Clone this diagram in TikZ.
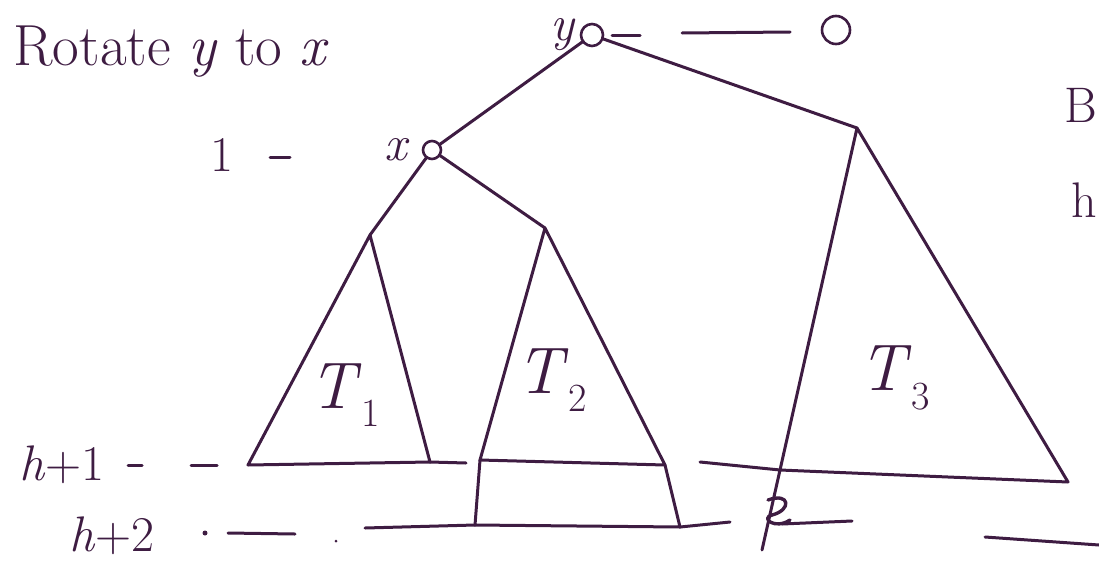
\documentclass[tikz,border=0pt]{standalone}
\usepackage{fontspec}
\usepackage{tikz}
\usetikzlibrary{positioning,calc}
\definecolor{ink}{RGB}{62,28,66}
\newcommand{\subtree}[1]{\textit{T}\raisebox{-0.28em}{\fontsize{40}{40}\selectfont #1}}

\begin{document}
\begin{tikzpicture}[
    x=1pt, y=-1pt,
    line width=3pt, draw=ink, line cap=round, line join=round,
    vertex/.style={circle, draw=ink, line width=2.6pt, fill=white, inner sep=0pt, minimum size=20pt},
    hand/.style={text=ink, font=\fontsize{50}{56}\selectfont, inner sep=0pt},
    tree/.style={text=ink, font=\fontsize{66}{70}\selectfont, inner sep=0pt}
]
    \useasboundingbox (0,0) rectangle (1099,562);

    % Title
    \node[hand, anchor=west, font=\fontsize{58}{62}\selectfont] (title) at (12,52) {Rotate \textit{y} to \textit{x}};

    % Nodes y, x and the extra node
    \node[vertex, minimum size=22pt] (y) at (592,35) {};
    \node[hand, left=2pt of y] (ylab) {\textit{y}};
    \node[vertex, minimum size=28pt] (o) at (836,30) {};
    \node[vertex, minimum size=18pt] (x) at (432,150) {};
    \node[hand, left=10pt of x] (xlab) {\textit{x}};
    \node[hand] (one) at (222,155) {1};

    % Subtree apexes and corners
    \coordinate (a1) at (370,235);
    \coordinate (l1) at (248,465);
    \coordinate (r1) at (430,462);
    \coordinate (a2) at (545,228);
    \coordinate (l2) at (480,460);
    \coordinate (r2) at (665,465);
    \coordinate (a3) at (857,128);
    \coordinate (l3) at (780,470);
    \coordinate (r3) at (1068,482);
    \coordinate (b2l) at (475,525);
    \coordinate (b2r) at (680,527);

    % Edges
    \draw (y) -- (x);
    \draw (y) -- (a3);
    \draw (x) -- (a1);
    \draw (x) -- (a2);

    % Subtrees
    \draw (a1) -- (l1) -- (r1) -- (a1);
    \draw (a2) -- (l2) -- (r2) -- (a2);
    \draw (a3) -- (l3) -- (r3) -- (a3);
    \draw (l2) -- (b2l) -- (b2r) -- (r2);
    \node[tree] (t1) at (345,395) {\subtree{1}};
    \node[tree] (t2) at (552,380) {\subtree{2}};
    \node[tree] (t3) at (895,378) {\subtree{3}};

    % Level marks
    \node[hand] (h1) at (62,465) {\textit{h}+1};
    \node[hand] (h2) at (112,536) {\textit{h}+2};
    \draw (612,35) -- (640,35);
    \draw (682,33) -- (790,32);
    \draw (270,157) -- (290,157);
    \draw (h1.east) ++(22,0) -- ++(14,0);
    \draw (h1.east) ++(85,0) -- ++(26,0);
    \draw (r1) -- (466,463);
    \draw (700,462) -- (l3);
    \fill[ink] (205,533) circle (2.5pt);
    \draw (228,533) -- (295,534);
    \fill[ink] (336,541) circle (1.5pt);
    \draw (365,528) -- (b2l);
    \draw (b2r) -- (730,522);

    % Broken edge below T3
    \draw (l3) -- (762,550);
    \draw[line width=3.4pt] (768,500) .. controls (790,492) and (792,510) .. (772,515)
        .. controls (760,518) and (775,530) .. (790,520);
    \draw (782,524) -- (852,521);
    \draw (985,537) -- (1099,545);

    % Letters at the right edge
    \node[hand, anchor=east] (cut1) at (1099,105) {B};
    \node[hand, anchor=east] (cut2) at (1099,200) {h};
\end{tikzpicture}
\end{document}
